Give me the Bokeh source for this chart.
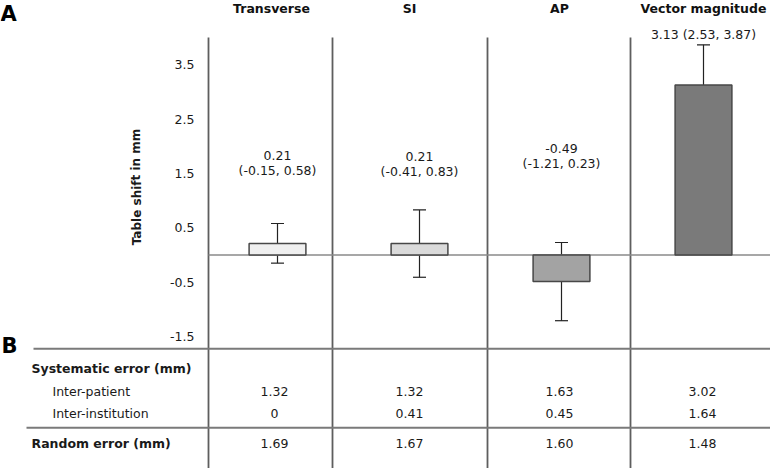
from bokeh.plotting import figure
from bokeh.models import (ColumnDataSource, Range1d, LinearAxis, FixedTicker, Whisker,
                          TeeHead, PrintfTickFormatter)
from bokeh.core.properties import value
from bokeh.embed import file_html
from bokeh.resources import INLINE

# ---------------- data ----------------
categories = ["Transverse", "SI", "AP", "Vector magnitude"]
shift_mean = [0.21, 0.21, -0.49, 3.13]
ci_lower = [-0.15, -0.41, -1.21, 2.53]
ci_upper = [0.58, 0.83, 0.23, 3.87]
bar_colors = ["#efefef", "#dadada", "#a3a3a3", "#7a7a7a"]
y_ticks = [-1.5, -0.5, 0.5, 1.5, 2.5, 3.5]

row_labels = ["Systematic error (mm)", "Inter-patient", "Inter-institution", "Random error (mm)"]
inter_patient = [1.32, 1.32, 1.63, 3.02]
inter_institution = [0, 0.41, 0.45, 1.64]
random_error = [1.69, 1.67, 1.60, 1.48]

# ---------------- layout helpers (page pixels -> data) ----------------
W, H = 770, 468
X0_PX, X_STEP = 277.0, 142.0
Y0_PX, Y_STEP = 254.5, 54.3


def dx(px):
    return (px - X0_PX) / X_STEP


def dy(py):
    return (Y0_PX - py) / Y_STEP


FONT = value("DejaVu Sans")
TXT = "#1a1a1a"

p = figure(width=W, height=H, output_backend="svg", toolbar_location=None,
           x_range=Range1d(dx(0), dx(W)), y_range=Range1d(dy(H), dy(0)),
           x_axis_location=None, y_axis_location=None, min_border=0)
p.outline_line_color = None
p.grid.grid_line_color = None
p.background_fill_color = "white"
p.border_fill_color = "white"

# y axis, fixed on the left separator
yax = LinearAxis(fixed_location=dx(208), ticker=FixedTicker(ticks=y_ticks),
                 formatter=PrintfTickFormatter(format="%.1f"),
                 axis_line_color=None, major_tick_line_color=None,
                 minor_tick_line_color=None, major_tick_in=0, major_tick_out=0,
                 major_label_standoff=14, major_label_text_font="DejaVu Sans",
                 major_label_text_font_size="12.5px", major_label_text_color=TXT)
p.add_layout(yax, "left")

# axis title
p.text(x=[dx(136)], y=[dy(186.5)], text=["Table shift in mm"], angle=1.5708,
       text_font=FONT, text_font_style="bold", text_font_size="12px",
       text_align="center", text_baseline="middle", text_color=TXT)

# column separators
sep_px = [208, 332, 487, 630]
p.segment(x0=[dx(v) for v in sep_px], y0=[dy(37)] * 4,
          x1=[dx(v) for v in sep_px], y1=[dy(475)] * 4,
          line_color="#5e5e5e", line_width=1.8)

# zero line & table lines
p.segment(x0=[dx(208), dx(33), dx(26)], y0=[0, dy(348.3), dy(427.3)],
          x1=[dx(775), dx(775), dx(775)], y1=[0, dy(348.3), dy(427.3)],
          line_color=["#8a8a8a", "#7a7a7a", "#7a7a7a"], line_width=[1.5, 2, 2])

# bars
idx = list(range(len(categories)))
src = ColumnDataSource(dict(x=idx, top=shift_mean, lo=ci_lower, hi=ci_upper, color=bar_colors))
p.vbar(x="x", top="top", bottom=0, width=0.40, fill_color="color",
       line_color="#474747", line_width=1.5, source=src)

# error bars
head_kw = dict(size=13, line_color="#222222", line_width=1.2)
p.add_layout(Whisker(source=src, base="x", upper="hi", lower="lo", dimension="height",
                     line_color="#222222", line_width=1.2,
                     upper_head=TeeHead(**head_kw), lower_head=TeeHead(**head_kw)))

# value labels
line1 = [f"{m:.2f}" for m in shift_mean[:3]] + \
        [f"{shift_mean[3]:.2f} ({ci_lower[3]:.2f}, {ci_upper[3]:.2f})"]
line2 = [f"({lo:.2f}, {hi:.2f})" for lo, hi in zip(ci_lower[:3], ci_upper[:3])]
line1_y = [155, 156, 148, 34]
line2_y = [169.5, 171, 162.5]
p.text(x=idx, y=[dy(v) for v in line1_y], text=line1, text_font=FONT,
       text_font_size="12.5px", text_align="center", text_baseline="middle", text_color=TXT)
p.text(x=idx[:3], y=[dy(v) for v in line2_y], text=line2, text_font=FONT,
       text_font_size="12.5px", text_align="center", text_baseline="middle", text_color=TXT)

# headers
col_centers = [dx(271), dx(409), dx(559), dx(703)]
p.text(x=col_centers, y=[dy(8)] * 4, text=categories, text_font=FONT,
       text_font_style="bold", text_font_size="12.5px", text_align="center",
       text_baseline="middle", text_color="#111111")

# panel letters
p.text(x=[dx(0), dx(1)], y=[dy(13), dy(345)], text=["A", "B"], text_font=FONT,
       text_font_style="bold", text_font_size="21px", text_align="left",
       text_baseline="middle", text_color="#000000")

# table row labels
row_y = [368.3, 390.5, 413, 442.7]
row_x = [31, 52, 52, 31]
row_style = ["bold", "normal", "normal", "bold"]
for lab, xx, yy, st in zip(row_labels, row_x, row_y, row_style):
    p.text(x=[dx(xx)], y=[dy(yy)], text=[lab], text_font=FONT, text_font_style=st,
           text_font_size="12.5px", text_align="left", text_baseline="middle",
           text_color=TXT)


def fmt(v):
    return "0" if v == 0 else f"{v:.2f}"


table_cx = [dx(274), dx(409), dx(559), dx(702)]
for vals, yy in zip([inter_patient, inter_institution, random_error], row_y[1:]):
    p.text(x=table_cx, y=[dy(yy)] * 4, text=[fmt(v) for v in vals], text_font=FONT,
           text_font_size="12.5px", text_align="center", text_baseline="middle",
           text_color=TXT)

open("out.html", "w").write(file_html(p, INLINE))
